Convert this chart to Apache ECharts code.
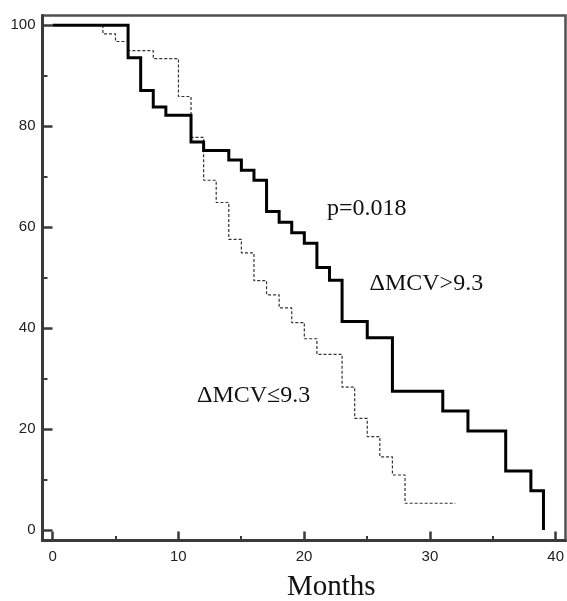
<!DOCTYPE html>
<html>
<head>
<meta charset="utf-8">
<script src="https://cdn.jsdelivr.net/npm/echarts@6/dist/echarts.min.js"></script>
<style>html,body{margin:0;padding:0;background:#fff;}#c{width:567px;height:601px;}</style>
</head>
<body>
<div id="c"></div>
<script>
// Group ΔMCV>9.3 (solid)
const highTimes = [0, 6, 7, 8, 9, 11, 12, 14, 15, 16, 17, 18, 19, 20, 21, 22, 23, 25, 27, 31, 33, 36, 38, 39];
const highSurv  = [100, 93.6, 87.1, 83.8, 82.2, 76.9, 75.2, 73.3, 71.3, 69.3, 63.1, 61.0, 58.9, 56.8, 52.0, 49.5, 41.3, 38.1, 27.5, 23.6, 19.6, 11.7, 7.8, 0];
// Group ΔMCV≤9.3 (dashed)
const lowTimes = [0, 4, 5, 6, 8, 10, 11, 12, 13, 14, 15, 16, 17, 18, 19, 20, 21, 23, 24, 25, 26, 27, 28, 32];
const lowSurv  = [100, 98.3, 96.8, 95.0, 93.4, 85.9, 77.8, 69.3, 64.9, 57.6, 54.9, 49.4, 46.6, 44.0, 41.1, 37.9, 34.8, 28.3, 22.1, 18.5, 14.5, 10.9, 5.3, 5.3];

// tick labels
const xTickMin = 0, xTickMax = 40, xTickStep = 10;
const yTickMin = 0, yTickMax = 100, yTickStep = 20;

const labelHigh = 'ΔMCV>9.3';
const labelLow = 'ΔMCV≤9.3';
const pText = 'p=0.018';
const xTitle = 'Months';

const zip = (a, b) => a.map((v, i) => [v, b[i]]);

const axisColor = '#3a3a3a';
const X = { min: -0.8, max: 40.75 };
const Y = { min: -2.08, max: 101.95 };

const G = { left: 42.5, top: 15.5, right: 1.5, bottom: 60.5 };
const pxX = (567 - G.left - G.right) / (X.max - X.min);
const pxY = (601 - G.top - G.bottom) / (Y.max - Y.min);
const x0 = G.left + (xTickMin - X.min) * pxX;
const x40 = G.left + (xTickMax - X.min) * pxX;
const y0 = G.top + (Y.max - yTickMin) * pxY;
const y100 = G.top + (Y.max - yTickMax) * pxY;

const labelStyle = { fontFamily: 'Liberation Sans', fontSize: 15, color: '#222' };

const chart = echarts.init(document.getElementById('c'), null, { renderer: 'canvas' });
chart.setOption({
  animation: false,
  backgroundColor: '#fff',
  grid: [
    { left: G.left, top: G.top, right: G.right, bottom: G.bottom,
      show: true, borderColor: '#505050', borderWidth: 2.5, backgroundColor: 'transparent' },
    { left: x0, right: 567 - x40, top: y100, bottom: 601 - y0, show: false }
  ],
  xAxis: [
    { gridIndex: 0, type: 'value', min: X.min, max: X.max, position: 'bottom',
      splitLine: { show: false },
      axisLine: { show: true, onZero: false, lineStyle: { color: axisColor, width: 3 } },
      axisTick: { show: false }, axisLabel: { show: false } },
    { gridIndex: 1, type: 'value', min: xTickMin, max: xTickMax, interval: xTickStep, position: 'bottom',
      offset: (601 - G.bottom) - y0,
      splitLine: { show: false },
      axisLine: { show: false, onZero: false },
      axisTick: { show: true, inside: true, length: 9, lineStyle: { color: axisColor, width: 2.5 } },
      minorTick: { show: true, splitNumber: 2, length: 4.5, lineStyle: { color: axisColor, width: 2 } },
      axisLabel: Object.assign({ margin: 9 }, labelStyle) }
  ],
  yAxis: [
    { gridIndex: 0, type: 'value', min: Y.min, max: Y.max, position: 'left',
      splitLine: { show: false },
      axisLine: { show: true, onZero: false, lineStyle: { color: axisColor, width: 3 } },
      axisTick: { show: false }, axisLabel: { show: false } },
    { gridIndex: 1, type: 'value', min: yTickMin, max: yTickMax, interval: yTickStep, position: 'left',
      offset: x0 - G.left,
      splitLine: { show: false },
      axisLine: { show: false, onZero: false },
      axisTick: { show: true, inside: true, length: 10, lineStyle: { color: axisColor, width: 2.5 } },
      minorTick: { show: true, splitNumber: 2, length: 5, lineStyle: { color: axisColor, width: 2 } },
      axisLabel: Object.assign({ margin: 7 }, labelStyle) }
  ],
  series: [
    {
      name: labelLow, type: 'line', step: 'end', xAxisIndex: 0, yAxisIndex: 0,
      data: zip(lowTimes, lowSurv), symbol: 'none',
      lineStyle: { color: '#333', width: 1.2, type: [3, 2] }, z: 3
    },
    {
      name: labelHigh, type: 'line', step: 'end', xAxisIndex: 0, yAxisIndex: 0,
      data: zip(highTimes, highSurv), symbol: 'none',
      lineStyle: { color: '#000', width: 3, join: 'miter' }, z: 4
    }
  ],
  graphic: [
    { type: 'text', x: 327, y: 197, style: { text: pText, font: '24px "Liberation Serif"', fill: '#111' } },
    { type: 'text', x: 369.5, y: 272, style: { text: labelHigh, font: '24px "Liberation Serif"', fill: '#111' } },
    { type: 'text', x: 197, y: 384, style: { text: labelLow, font: '24px "Liberation Serif"', fill: '#111' } },
    { type: 'text', x: 287, y: 573, style: { text: xTitle, font: '29px "Liberation Serif"', fill: '#111' } }
  ]
});
</script>
</body>
</html>
